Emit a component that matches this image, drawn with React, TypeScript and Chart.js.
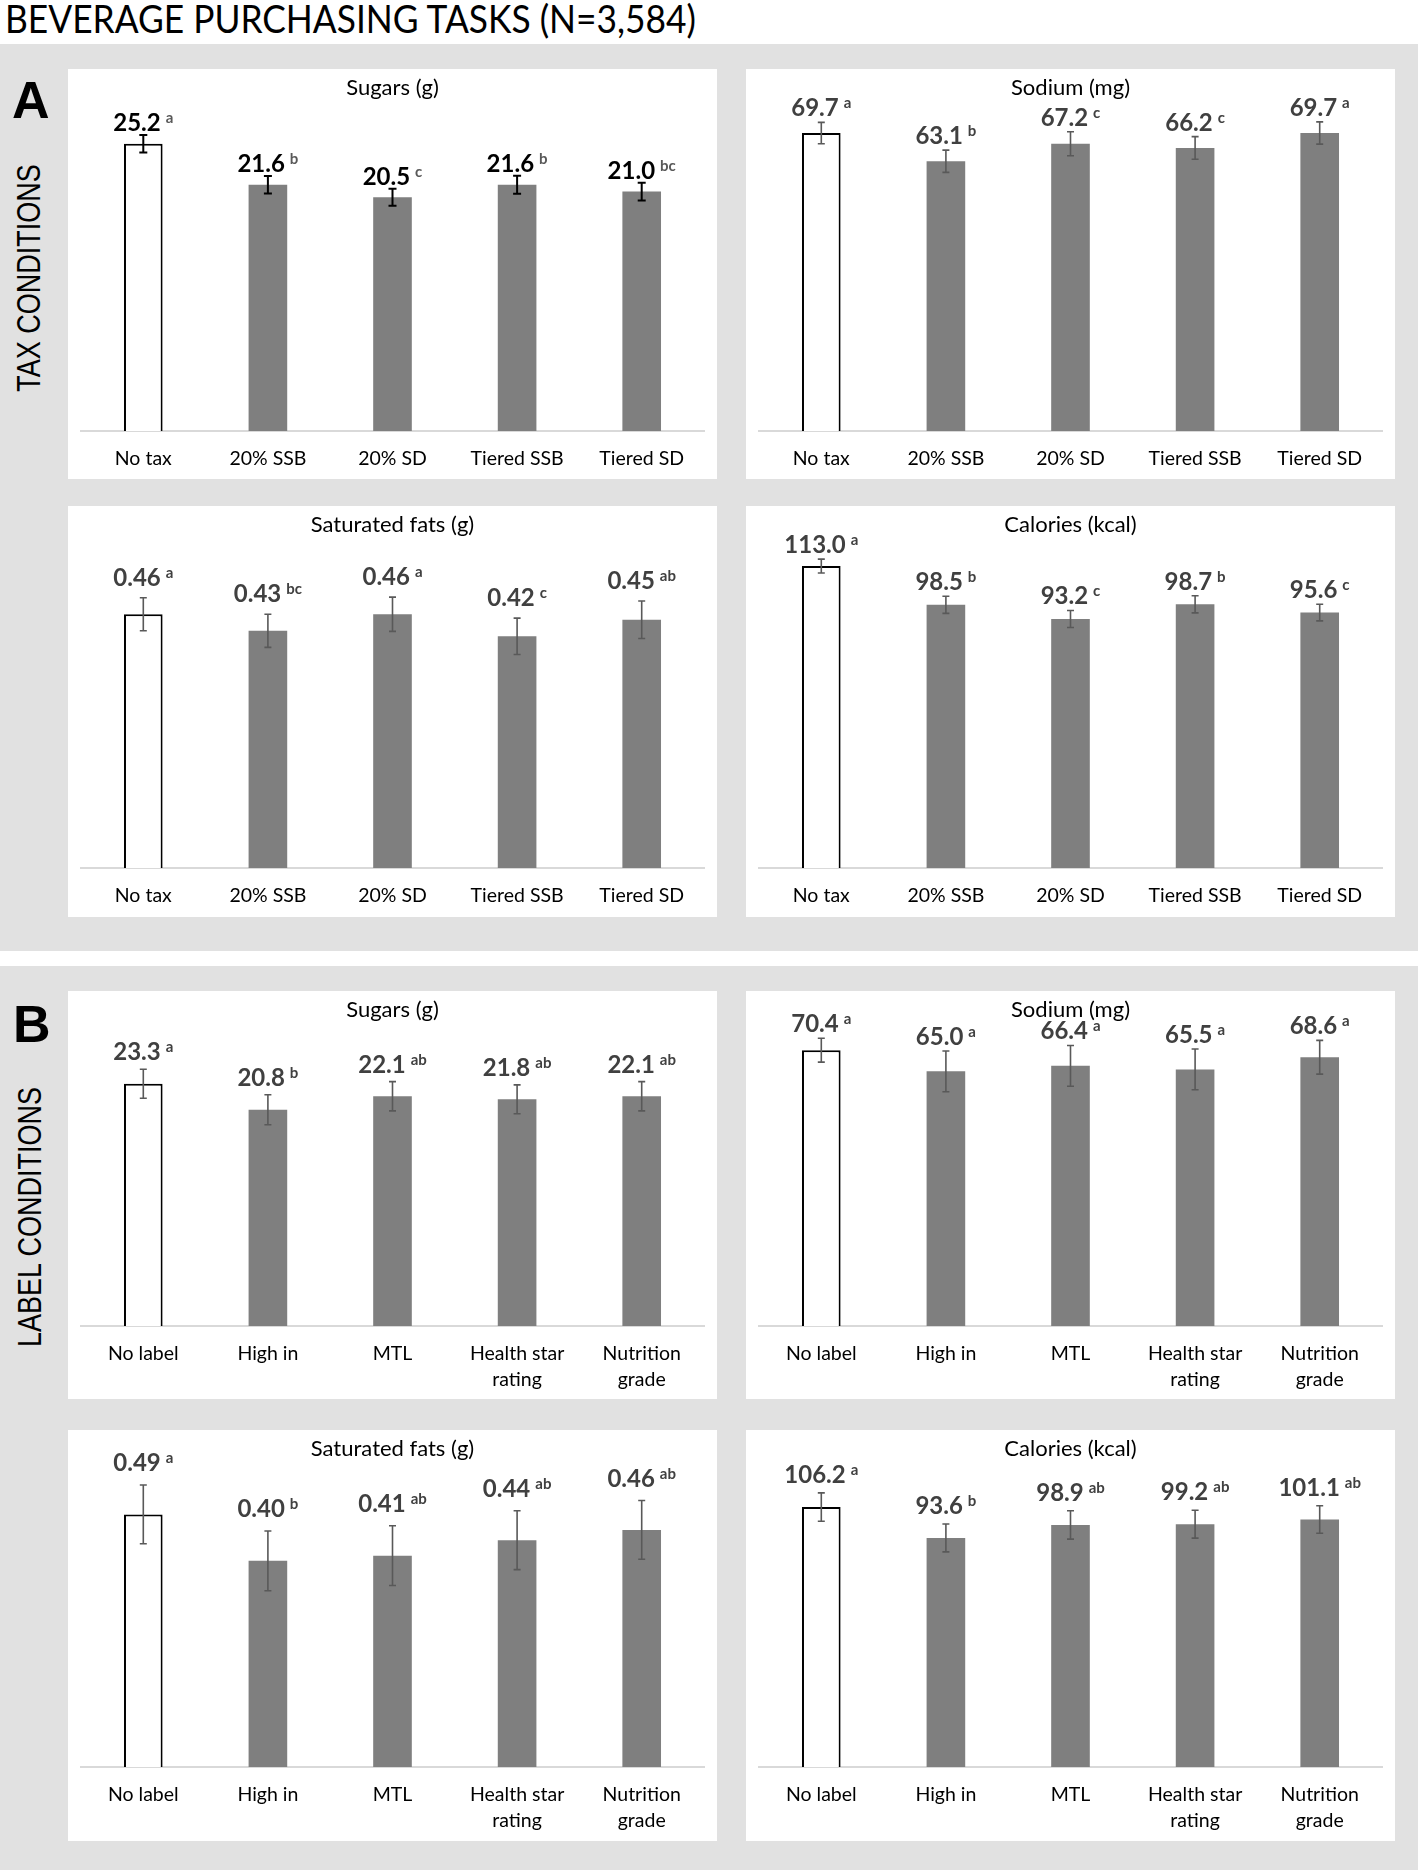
import React, { useEffect, useRef } from "react";
import { Chart, registerables } from "chart.js";

Chart.register(...registerables);

const FONT = "Lato, 'Open Sans', sans-serif";

// ---------- DATA ----------
const taxCategories: (string | string[])[] = ["No tax", "20% SSB", "20% SD", "Tiered SSB", "Tiered SD"];
const labelCategories: (string | string[])[] = ["No label", "High in", "MTL", ["Health star", "rating"], ["Nutrition", "grade"]];

const taxSugars = [25.2, 21.6, 20.5, 21.6, 21.0];
const taxSugarsErr = [0.77, 0.77, 0.74, 0.79, 0.77];
const taxSugarsSig = ["a", "b", "c", "b", "bc"];

const taxSodium = [69.7, 63.1, 67.2, 66.2, 69.7];
const taxSodiumErr = [2.5, 2.6, 2.8, 2.65, 2.6];
const taxSodiumSig = ["a", "b", "c", "c", "a"];

const taxSatFat = [0.46, 0.43, 0.46, 0.42, 0.45];
const taxSatFatErr = [0.03, 0.03, 0.031, 0.033, 0.034];
const taxSatFatSig = ["a", "bc", "a", "c", "ab"];

const taxCalories = [113.0, 98.5, 93.2, 98.7, 95.6];
const taxCaloriesErr = [2.6, 3.2, 3.2, 3.2, 3.1];
const taxCaloriesSig = ["a", "b", "c", "b", "c"];

const labelSugars = [23.3, 20.8, 22.1, 21.8, 22.1];
const labelSugarsErr = [1.39, 1.44, 1.41, 1.39, 1.41];
const labelSugarsSig = ["a", "b", "ab", "ab", "ab"];

const labelSodium = [70.4, 65.0, 66.4, 65.5, 68.6];
const labelSodiumErr = [3.05, 5.2, 5.2, 5.2, 4.3];
const labelSodiumSig = ["a", "a", "a", "a", "a"];

const labelSatFat = [0.49, 0.40, 0.41, 0.44, 0.46];
const labelSatFatErr = [0.057, 0.058, 0.058, 0.057, 0.057];
const labelSatFatSig = ["a", "b", "ab", "ab", "ab"];

const labelCalories = [106.2, 93.6, 98.9, 99.2, 101.1];
const labelCaloriesErr = [5.8, 5.7, 5.8, 5.7, 5.6];
const labelCaloriesSig = ["a", "b", "ab", "ab", "ab"];

// ---------- PANEL LAYOUT ----------
type PanelCfg = {
  left: number; top: number; w: number; h: number; baseline: number;
  title: string; cats: (string | string[])[]; values: number[]; errs: number[]; sig: string[];
  yMax: number; decimals: number; gap: number; dark: boolean;
};

const W = 649;
const panels: PanelCfg[] = [
  { left: 68, top: 69, w: W, h: 410, baseline: 362, title: "Sugars (g)", cats: taxCategories, values: taxSugars, errs: taxSugarsErr, sig: taxSugarsSig, yMax: 30, decimals: 1, gap: 4, dark: true },
  { left: 746, top: 69, w: W, h: 410, baseline: 362, title: "Sodium (mg)", cats: taxCategories, values: taxSodium, errs: taxSodiumErr, sig: taxSodiumSig, yMax: 80, decimals: 1, gap: 6, dark: false },
  { left: 68, top: 506, w: W, h: 411, baseline: 362, title: "Saturated fats (g)", cats: taxCategories, values: taxSatFat, errs: taxSatFatErr, sig: taxSatFatSig, yMax: 0.62, decimals: 2, gap: 12, dark: false },
  { left: 746, top: 506, w: W, h: 411, baseline: 362, title: "Calories (kcal)", cats: taxCategories, values: taxCalories, errs: taxCaloriesErr, sig: taxCaloriesSig, yMax: 128, decimals: 1, gap: 6, dark: false },
  { left: 68, top: 991, w: W, h: 408, baseline: 335, title: "Sugars (g)", cats: labelCategories, values: labelSugars, errs: labelSugarsErr, sig: labelSugarsSig, yMax: 30.3, decimals: 1, gap: 9, dark: false },
  { left: 746, top: 991, w: W, h: 408, baseline: 335, title: "Sodium (mg)", cats: labelCategories, values: labelSodium, errs: labelSodiumErr, sig: labelSodiumSig, yMax: 80.4, decimals: 1, gap: 6, dark: false },
  { left: 68, top: 1430, w: W, h: 411, baseline: 337, title: "Saturated fats (g)", cats: labelCategories, values: labelSatFat, errs: labelSatFatErr, sig: labelSatFatSig, yMax: 0.615, decimals: 2, gap: 14, dark: false },
  { left: 746, top: 1430, w: W, h: 411, baseline: 337, title: "Calories (kcal)", cats: labelCategories, values: labelCalories, errs: labelCaloriesErr, sig: labelCaloriesSig, yMax: 129.5, decimals: 1, gap: 10, dark: false },
];

const annotatePlugin = {
  id: "annotate",
  afterDatasetsDraw(chart: any, _args: any, opts: any) {
    const ctx = chart.ctx as CanvasRenderingContext2D;
    const meta = chart.getDatasetMeta(0);
    const y = chart.scales.y;
    const values = chart.data.datasets[0].data as number[];
    const errs: number[] = opts.errs;
    const sig: string[] = opts.sig;
    ctx.save();
    meta.data.forEach((bar: any, i: number) => {
      const v = values[i];
      const e = errs[i];
      const x = bar.x;
      const yt = y.getPixelForValue(v + e);
      const yb = y.getPixelForValue(v - e);
      const cap = opts.dark ? 4 : 3.5;
      ctx.strokeStyle = opts.dark ? "#000" : "#595959";
      ctx.lineWidth = opts.dark ? 2 : 1.6;
      ctx.beginPath();
      ctx.moveTo(x, yt); ctx.lineTo(x, yb);
      ctx.moveTo(x - cap, yt); ctx.lineTo(x + cap, yt);
      ctx.moveTo(x - cap, yb); ctx.lineTo(x + cap, yb);
      ctx.stroke();

      const txt = v.toFixed(opts.decimals);
      const mainFont = `bold 24px ${FONT}`;
      const supFont = `bold 15px ${FONT}`;
      ctx.font = mainFont;
      const w1 = ctx.measureText(txt).width;
      ctx.font = supFont;
      const w2 = ctx.measureText(sig[i]).width;
      const total = w1 + 5 + w2;
      const x0 = x - total / 2;
      const base = yt - opts.gap;
      ctx.textAlign = "left";
      ctx.textBaseline = "alphabetic";
      ctx.font = mainFont;
      ctx.fillStyle = opts.dark ? "#000" : "#404040";
      ctx.fillText(txt, x0, base);
      ctx.font = supFont;
      ctx.fillStyle = opts.dark ? "#595959" : "#404040";
      ctx.fillText(sig[i], x0 + w1 + 5, base - 8);
    });
    ctx.font = `22px ${FONT}`;
    ctx.fillStyle = "#000";
    ctx.textAlign = "center";
    ctx.textBaseline = "middle";
    ctx.fillText(opts.title, chart.width / 2, 19);
    ctx.restore();
  },
};

function BarPanel({ p }: { p: PanelCfg }) {
  const ref = useRef<HTMLCanvasElement>(null);
  useEffect(() => {
    const axisH = p.h - p.baseline;
    const chart = new Chart(ref.current as HTMLCanvasElement, {
      type: "bar",
      data: {
        labels: p.cats as any,
        datasets: [
          {
            data: p.values,
            backgroundColor: p.values.map((_, i) => (i === 0 ? "#ffffff" : "#7f7f7f")),
            borderColor: p.values.map((_, i) => (i === 0 ? "#000000" : "rgba(0,0,0,0)")),
            borderWidth: p.values.map((_, i) => (i === 0 ? 2 : 0)),
            categoryPercentage: 1,
            barPercentage: 0.31,
          },
        ],
      },
      options: {
        responsive: false,
        animation: false,
        devicePixelRatio: 1,
        layout: { padding: { left: 13, right: 13, top: 20, bottom: 0 } },
        plugins: {
          legend: { display: false },
          tooltip: { enabled: false },
          title: { display: false },
          annotate: { errs: p.errs, sig: p.sig, decimals: p.decimals, gap: p.gap, dark: p.dark, title: p.title },
        } as any,
        scales: {
          x: {
            grid: { display: false, drawTicks: false },
            border: { display: true, color: "#d9d9d9", width: 2 },
            ticks: {
              color: "#000",
              font: { family: FONT, size: 19.5, lineHeight: 1.34 },
              padding: 15,
              maxRotation: 0,
              autoSkip: false,
            },
            afterFit: (s: any) => {
              s.height = axisH;
            },
          },
          y: { display: false, min: 0, max: p.yMax },
        },
      },
      plugins: [annotatePlugin],
    });
    return () => chart.destroy();
  }, []);
  return (
    <canvas
      ref={ref}
      width={p.w}
      height={p.h}
      style={{ position: "absolute", left: p.left, top: p.top, width: p.w, height: p.h, background: "#fff" }}
    />
  );
}

function measure(text: string, font: string) {
  const c = document.createElement("canvas").getContext("2d") as CanvasRenderingContext2D;
  c.font = font;
  return c.measureText(text).width;
}

const PAGE_TITLE = "BEVERAGE PURCHASING TASKS (N=3,584)";

export default function App() {
  const titleFont = `38px ${FONT}`;
  const titleScale = 692 / measure(PAGE_TITLE, titleFont);
  const vFont = "27px 'Liberation Sans', Arial, sans-serif";
  const vertical = (text: string, cx: number, cy: number) => (
    <div
      style={{
        position: "absolute",
        left: cx,
        top: cy,
        font: vFont,
        lineHeight: "27px",
        whiteSpace: "nowrap",
        color: "#000",
        transform: "translate(-50%, -50%) rotate(-90deg) scaleY(1.2)",
      }}
    >
      {text}
    </div>
  );
  return (
    <div style={{ position: "absolute", left: 0, top: 0, width: 1418, height: 1870, background: "#fff", overflow: "hidden" }}>
      <div
        style={{
          position: "absolute",
          left: 5,
          top: -1,
          font: titleFont,
          lineHeight: "38px",
          whiteSpace: "nowrap",
          color: "#000",
          transform: `scaleX(${titleScale})`,
          transformOrigin: "left top",
        }}
      >
        {PAGE_TITLE}
      </div>
      <div style={{ position: "absolute", left: 0, top: 44, width: 1418, height: 907, background: "#e1e1e1" }} />
      <div style={{ position: "absolute", left: 0, top: 966, width: 1418, height: 904, background: "#e1e1e1" }} />
      <div style={{ position: "absolute", left: 12, top: 74, font: "bold 52px 'Liberation Sans', Arial, sans-serif", lineHeight: "52px", color: "#000" }}>A</div>
      <div style={{ position: "absolute", left: 13, top: 998, font: "bold 52px 'Liberation Sans', Arial, sans-serif", lineHeight: "52px", color: "#000" }}>B</div>
      {vertical("TAX CONDITIONS", 30, 278)}
      {vertical("LABEL CONDITIONS", 31, 1217)}
      {panels.map((p, i) => (
        <BarPanel key={i} p={p} />
      ))}
    </div>
  );
}
